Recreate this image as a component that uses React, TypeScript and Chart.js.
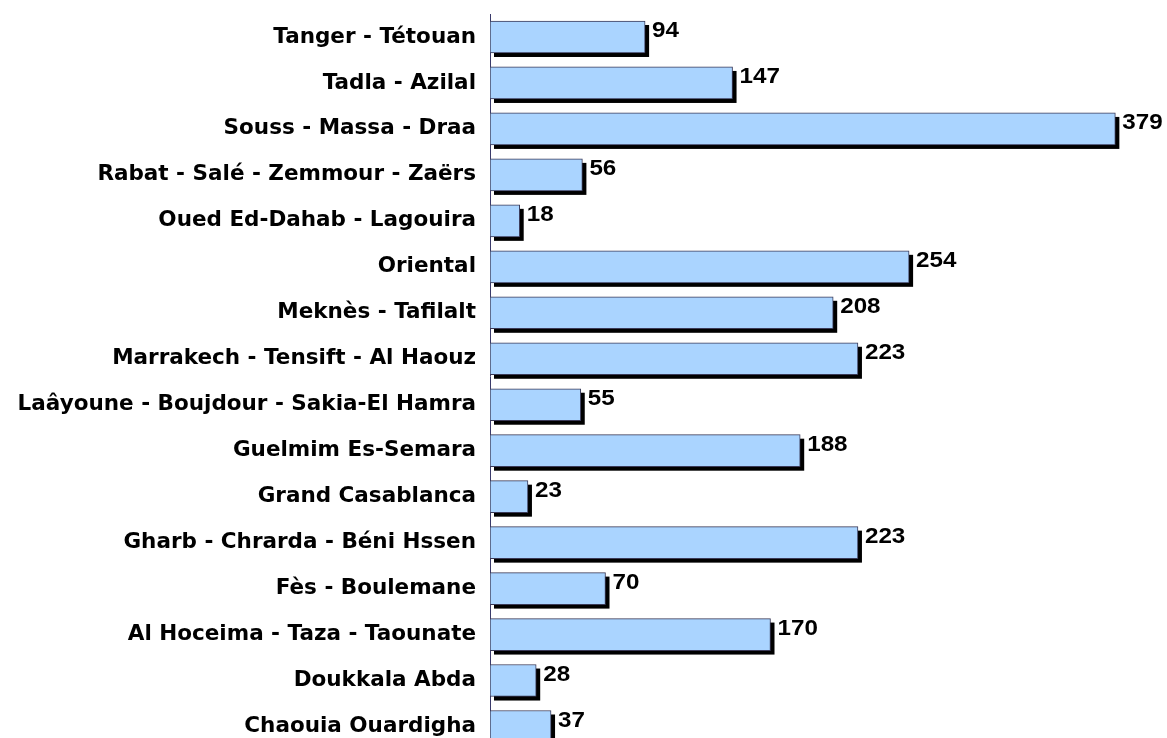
import React, { useEffect, useRef } from "react";
import { Chart, registerables } from "chart.js";

Chart.register(...registerables);

const regions: string[] = [
  "Tanger - Tétouan",
  "Tadla - Azilal",
  "Souss - Massa - Draa",
  "Rabat - Salé - Zemmour - Zaërs",
  "Oued Ed-Dahab - Lagouira",
  "Oriental",
  "Meknès - Tafilalt",
  "Marrakech - Tensift - Al Haouz",
  "Laâyoune - Boujdour - Sakia-El Hamra",
  "Guelmim Es-Semara",
  "Grand Casablanca",
  "Gharb - Chrarda - Béni Hssen",
  "Fès - Boulemane",
  "Al Hoceima - Taza - Taounate",
  "Doukkala Abda",
  "Chaouia Ouardigha",
];

const values: number[] = [94, 147, 379, 56, 18, 254, 208, 223, 55, 188, 23, 223, 70, 170, 28, 37];

const shadowPlugin = {
  id: "barShadow",
  beforeDatasetsDraw(chart: any) {
    const ctx = chart.ctx;
    const meta = chart.getDatasetMeta(0);
    ctx.save();
    ctx.fillStyle = "#000000";
    meta.data.forEach((el: any) => {
      const p = el.getProps(["x", "y", "base", "height"], true);
      const left = Math.min(p.base, p.x);
      const w = Math.abs(p.x - p.base);
      ctx.fillRect(left + 4, p.y - p.height / 2 + 4, w, p.height);
    });
    ctx.restore();
  },
};

const valueLabelPlugin = {
  id: "valueLabels",
  afterDatasetsDraw(chart: any) {
    const ctx = chart.ctx;
    const meta = chart.getDatasetMeta(0);
    ctx.save();
    ctx.fillStyle = "#000000";
    ctx.font = "bold 22px Arial, 'Liberation Sans', sans-serif";
    ctx.textAlign = "left";
    ctx.textBaseline = "alphabetic";
    meta.data.forEach((el: any, i: number) => {
      const p = el.getProps(["x", "y", "height"], true);
      const tx = p.x + 7;
      const ty = p.y - p.height / 2 + 16.5;
      ctx.save();
      ctx.translate(tx, ty);
      ctx.scale(1.1, 1);
      ctx.fillText(String(values[i]), 0, 0);
      ctx.restore();
    });
    ctx.restore();
  },
};

export default function App() {
  const ref = useRef<HTMLCanvasElement | null>(null);

  useEffect(() => {
    if (!ref.current) return;
    const chart = new Chart(ref.current, {
      type: "bar",
      data: {
        datasets: [
          {
            data: values.map((v, i) => ({ x: v, y: i })),
            backgroundColor: "#AAD4FF",
            borderColor: "#3a3a58",
            borderWidth: 1,
            borderSkipped: false,
            barThickness: 32,
          },
        ],
      },
      options: {
        indexAxis: "y",
        responsive: false,
        animation: false,
        events: [],
        layout: { padding: { top: 14, right: 17, bottom: 0, left: 0 } },
        plugins: { legend: { display: false }, tooltip: { enabled: false } },
        scales: {
          x: {
            type: "linear",
            display: false,
            min: 0,
            max: 400,
          },
          y: {
            type: "linear",
            reverse: true,
            offset: false,
            bounds: "data",
            min: -0.5,
            max: 15.25,
            grid: { display: false, drawTicks: false, offset: false },
            border: { display: true, color: "#3a3a6a", width: 1 },
            afterBuildTicks: (scale: any) => {
              scale.ticks = regions.map((_, i) => ({ value: i }));
            },
            afterFit: (scale: any) => {
              scale.width = 490;
              scale.paddingTop = 0;
              scale.paddingBottom = 0;
            },
            ticks: {
              autoSkip: false,
              padding: 14,
              color: "#000000",
              font: { family: "'DejaVu Sans', sans-serif", size: 21.5, weight: "bold" },
              callback: (value: any) => regions[Number(value)] ?? "",
            },
          },
        },
      },
      plugins: [shadowPlugin, valueLabelPlugin],
    } as any);
    return () => chart.destroy();
  }, []);

  return (
    <div style={{ position: "absolute", left: 0, top: 0, width: 1167, height: 738, background: "#ffffff" }}>
      <canvas ref={ref} width={1167} height={738} style={{ display: "block" }} />
    </div>
  );
}
